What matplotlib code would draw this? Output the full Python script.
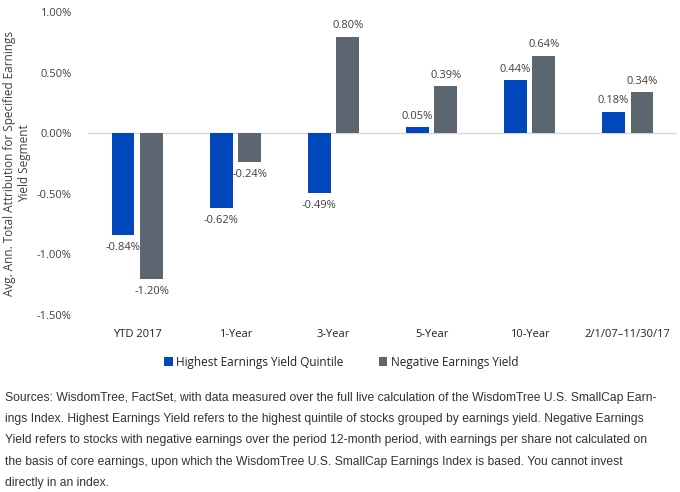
import numpy as np
import matplotlib.pyplot as plt

categories = ['YTD 2017', '1-Year', '3-Year', '5-Year', '10-Year', '2/1/07\u201311/30/17']
highest = [-0.84, -0.62, -0.49, 0.05, 0.44, 0.18]
negative = [-1.20, -0.24, 0.80, 0.39, 0.64, 0.34]
series_names = ['Highest Earnings Yield Quintile', 'Negative Earnings Yield']

blue = '#0047BB'
gray = '#5B6670'
txt = '#404040'

plt.rcParams['font.family'] = ['Open Sans', 'DejaVu Sans']

fig = plt.figure(figsize=(6.8, 4.92), dpi=100)
ax = fig.add_axes([0.13, 0.36, 0.865, 0.615])

x = np.arange(len(categories))
w = 0.23
off = 0.145
b1 = ax.bar(x - off, highest, w, color=blue, label=series_names[0])
b2 = ax.bar(x + off, negative, w, color=gray, label=series_names[1])

for bars, vals in [(b1, highest), (b2, negative)]:
    for b, v in zip(bars, vals):
        cx = b.get_x() + b.get_width() / 2
        if v >= 0:
            ax.annotate(f'{v:.2f}%', (cx, v), xytext=(0, 4), textcoords='offset points',
                        ha='center', va='bottom', fontsize=8, color=txt)
        else:
            ax.annotate(f'{v:.2f}%', (cx, v), xytext=(0, -5), textcoords='offset points',
                        ha='center', va='top', fontsize=8, color=txt)

ax.axhline(0, color='#d9d9d9', lw=1, zorder=0)
ax.set_ylim(-1.5, 1.0)
ax.set_xlim(-0.5, len(categories) - 0.5)
yt = np.arange(-1.5, 1.01, 0.5)
ax.set_yticks(yt)
ax.set_yticklabels([f'{v:.2f}%' for v in yt], fontsize=8, color=txt)
ax.set_xticks(x)
ax.set_xticklabels(categories, fontsize=8, color='#222222')
ax.tick_params(length=0, pad=12)
ax.tick_params(axis='x', pad=10)
for s in ax.spines.values():
    s.set_visible(False)

ax.set_ylabel('Avg. Ann. Total Attribution for Specified Earnings\nYield Segment',
              fontsize=8.5, color=txt, labelpad=4)

ax.legend(loc='upper center', bbox_to_anchor=(0.43, -0.10), ncol=2, frameon=False,
          fontsize=8.5, handlelength=0.7, handleheight=0.7, handletextpad=0.3,
          columnspacing=3.0, labelcolor='#222222')

note = ('Sources: WisdomTree, FactSet, with data measured over the full live calculation of the WisdomTree U.S. SmallCap Earn-\n'
        'ings Index. Highest Earnings Yield refers to the highest quintile of stocks grouped by earnings yield. Negative Earnings\n'
        'Yield refers to stocks with negative earnings over the period 12-month period, with earnings per share not calculated on\n'
        'the basis of core earnings, upon which the WisdomTree U.S. SmallCap Earnings Index is based. You cannot invest\n'
        'directly in an index.')
fig.text(0.008, 0.203, note, fontsize=8.7, family='Liberation Sans', color='#333333',
         va='top', ha='left', linespacing=2.02)

fig.savefig('out.png', dpi=100)
